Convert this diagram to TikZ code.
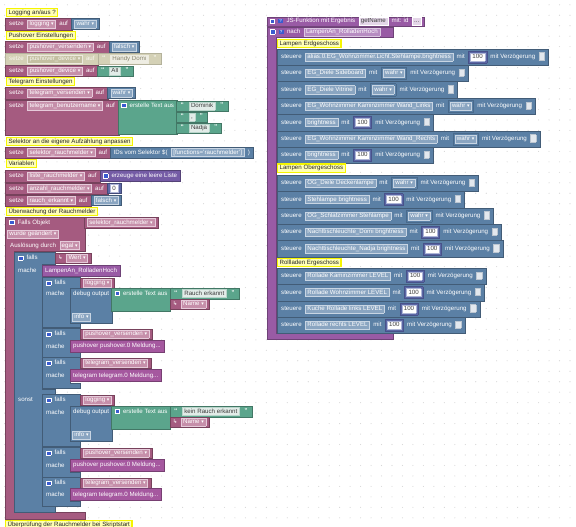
\documentclass[tikz,border=0pt]{standalone}
\usepackage{fontspec}
\setmainfont{Liberation Sans}
\newfontfamily\dvfont{DejaVu Sans}
\definecolor{cV}{HTML}{A55B80}
\definecolor{fP}{HTML}{C68FAA}
\definecolor{fPb}{HTML}{E6CADA}
\definecolor{cB}{HTML}{5B80A5}
\definecolor{cBd}{HTML}{496A8C}
\definecolor{fB}{HTML}{8AA5C1}
\definecolor{fBb}{HTML}{C8D5E3}
\definecolor{cG}{HTML}{5BA58C}
\definecolor{fS}{HTML}{E2ECE8}
\definecolor{fSb}{HTML}{B9D6CB}
\definecolor{txtd}{HTML}{3C3C3C}
\definecolor{cI}{HTML}{5B67A5}
\definecolor{cId}{HTML}{48528A}
\definecolor{fWb}{HTML}{AEB5D6}
\definecolor{cL}{HTML}{745BA5}
\definecolor{cPr}{HTML}{995BA5}
\definecolor{fV}{HTML}{B78CC2}
\definecolor{fVb}{HTML}{DCC7E2}
\definecolor{fL}{HTML}{E4D6E8}
\definecolor{cM}{HTML}{A5589F}
\definecolor{cD}{HTML}{D4D1B6}
\definecolor{fD}{HTML}{C4C0A2}
\definecolor{fDb}{HTML}{EDEBDF}
\definecolor{fDs}{HTML}{EEEDE3}
\definecolor{dstr}{HTML}{8A866E}
\definecolor{dtext}{HTML}{F8F7F0}
\definecolor{cmtF}{HTML}{FFFFB5}
\definecolor{cmtB}{HTML}{F5F500}
\definecolor{icB}{HTML}{3A5BD0}
\definecolor{chkF}{HTML}{E3E8EE}
\definecolor{chkB}{HTML}{BCC6D1}
\definecolor{dotc}{HTML}{D6D6D6}
\newcommand\blfont{\fontsize{6.15}{7}\selectfont}
\newcommand\ddn{{\dvfont\fontsize{5}{6}\selectfont ▾}}
\newcommand\rarrow{{\dvfont\fontsize{5.5}{6}\selectfont ↳}}
\newcommand\gpp{\hspace{3.5pt}}
\newcommand\qo{{\fontsize{8.5}{8}\selectfont\raisebox{-1.2pt}{“}}}
\newcommand\qc{{\fontsize{8.5}{8}\selectfont\raisebox{-1.2pt}{”}}}
\newcommand\fbx[4]{{\setlength\fboxsep{1.1pt}\setlength\fboxrule{0.4pt}\fcolorbox{#2}{#1}{\hspace{0.7pt}\textcolor{#3}{\vphantom{Ag}#4}\hspace{0.7pt}}}}
\newcommand\fldP[1]{\fbx{fP}{fPb}{white}{#1}}
\newcommand\fldB[1]{\fbx{fB}{fBb}{white}{#1}}
\newcommand\fldS[1]{\fbx{fS}{fSb}{txtd}{#1}}
\newcommand\fldW[1]{\fbx{white}{fWb}{txtd}{#1}}
\newcommand\fldD[1]{\fbx{fD}{fDb}{dtext}{#1}}
\newcommand\fldDs[1]{\fbx{fDs}{fDb}{dstr}{#1}}
\newcommand\fldV[1]{\fbx{fV}{fVb}{white}{#1}}
\newcommand\fldL[1]{\fbx{fL}{white}{txtd}{#1}}
\newcommand\strg[1]{\qo\hspace{5pt}\fldS{#1}\hspace{5pt}\qc}
\newcommand\valbool[1]{{\setlength\fboxsep{1.6pt}\setlength\fboxrule{0.4pt}\fcolorbox{cBd}{cB}{\fldB{#1}}}}
\newcommand\valnum[1]{{\setlength\fboxsep{1.6pt}\setlength\fboxrule{0.4pt}\fcolorbox{cId}{cI}{\fldW{#1}}}}
\newcommand\chkbox{{\setlength\fboxsep{0pt}\setlength\fboxrule{0.4pt}\raisebox{-1.3pt}{\fcolorbox{chkB}{chkF}{\rule{0pt}{7pt}\hspace{5pt}}}}}
\newcommand\iconsq{{\setlength\fboxsep{0pt}\setlength\fboxrule{0.5pt}\raisebox{-0.2pt}{\fcolorbox{white}{icB}{\rule{0pt}{4pt}\hspace{4pt}}}}}
\newcommand\qicon{{\setlength\fboxsep{0.4pt}\colorbox{icB}{\textcolor{white}{\fontsize{4.5}{5}\selectfont\,?\,}}}}
\begin{document}
\begin{tikzpicture}[x=1pt,y=-1pt,
  lbl/.style={text=white, font=\blfont, inner sep=0pt, anchor=west},
  plain/.style={font=\blfont, inner sep=0pt, anchor=west},
  blk/.style={fill=#1, draw=#1!72!black, line width=0.4pt, inner xsep=3pt, inner ysep=0.5pt, text=white, font=\blfont, anchor=west},
  strblk/.style={blk=cG, minimum height=10.5pt, inner xsep=4.5pt, xshift=-1pt},
  shp/.style={fill=#1, draw=#1!72!black, line width=0.4pt},
  cmtn/.style={fill=cmtF, draw=cmtB, line width=1.2pt, text=black!85, font=\blfont, inner xsep=2pt, inner ysep=0pt, minimum height=8.5pt, anchor=west}]
\newcommand\setzeblk[4]{\node[blk=cV, minimum height=#4pt, inner xsep=4pt] (#1) at (5,#2) {setze\gpp\fldP{#3 \ddn}\gpp auf\hspace{8pt}};}
\newcommand\steuerblk[4]{\node[blk=cB, minimum height=16.4pt, inner xsep=4pt] (#1) at (277,#2) {steuere\gpp\fldB{#3}\gpp mit\gpp #4\gpp mit Verzögerung\gpp\chkbox};}
\newcommand\fallsblk[5]{%
  \draw[shp=cB] (42,#2) -- (80,#2) -- (80,#2+12) -- (70,#2+12) -- (70,#3-5) -- (80,#3-5) -- (80,#3) -- (42,#3) -- cycle;
  \node[lbl] (#1l) at (46,#2+6) {\iconsq\gpp falls};
  \node[blk=cV, minimum height=10pt] (#1v) at (80,#2+6) {\fldP{#4 \ddn}};
  \node[lbl] (#1m) at (46,#5) {mache};}
\fill[white] (0,0) rectangle (576,527);
\useasboundingbox (0,0) rectangle (576,527);
\clip (0,0) rectangle (576,527);
\foreach \i in {0,...,54}{\foreach \j in {0,...,50}{\fill[dotc] ({4.6+10.47*\i},{4.8+10.47*\j}) circle (0.55pt);}}
% ---------------- left group ----------------
\node[cmtn] (c1) at (6,12.5) {Logging an/aus ?};
\setzeblk{b1}{24}{logging}{12}
\node[blk=cB, minimum height=11pt] (b1v) at ([xshift=-1pt]b1.east) {\fldB{wahr \ddn}};
\node[cmtn] (c2) at (6,35.5) {Pushover Einstellungen};
\setzeblk{b2}{47}{pushover\_versenden}{12}
\node[blk=cB, minimum height=11pt] (b2v) at ([xshift=-1pt]b2.east) {\fldB{falsch \ddn}};
\node[blk=cD, draw=cD!85!black, text=dtext, minimum height=12pt, inner xsep=4pt] (b3) at (5,59) {setze\gpp\fldD{pushover\_device \ddn}\gpp auf\hspace{8pt}};
\node[blk=cD, draw=cD!85!black, text=dtext, minimum height=11pt, inner xsep=4.5pt] (b3v) at ([xshift=-1pt]b3.east) {\qo\hspace{5pt}\fldDs{Handy Domi}\hspace{5pt}\qc};
\setzeblk{b4}{71}{pushover\_device}{11}
\node[strblk, xshift=0pt] (b4v) at ([xshift=-1pt]b4.east) {\strg{All}};
\node[cmtn] (c3) at (6,81.5) {Telegram Einstellungen};
\setzeblk{b5}{93}{telegram\_versenden}{12}
\node[blk=cB, minimum height=11pt] (b5v) at ([xshift=-1pt]b5.east) {\fldB{wahr \ddn}};
\node[blk=cV, inner xsep=4pt, text height=6.5pt, text depth=27.5pt, anchor=north west] (b6) at (5,100) {setze\gpp\fldP{telegram\_benutzername \ddn}\gpp auf\hspace{8pt}};
\node[blk=cG, text height=6.5pt, text depth=26pt, anchor=north west, xshift=-1pt] (b6g) at (b6.north east) {\iconsq\gpp erstelle Text aus\hspace{22pt}};
\node[strblk] (b6s1) at (b6g.north east |- 0,106) {\strg{Dominik}};
\node[strblk] (b6s2) at (b6g.north east |- 0,117) {\strg{,}};
\node[strblk] (b6s3) at (b6g.north east |- 0,128) {\strg{Nadja}};
\node[cmtn] (c4) at (6,141.5) {Selektor an die eigene Aufzählung anpassen};
\setzeblk{b7}{152.5}{selektor\_rauchmelder}{11}
\node[blk=cB, minimum height=10.5pt] (b7v) at ([xshift=-1pt]b7.east) {IDs vom Selektor \$(\gpp\fldB{[functions='rauchmelder']}\gpp)};
\node[cmtn] (c5) at (6,163.5) {Variablen};
\setzeblk{b8}{176}{liste\_rauchmelder}{12}
\node[blk=cL, minimum height=11pt] (b8v) at ([xshift=-1pt]b8.east) {\iconsq\gpp erzeuge eine leere Liste\hspace{4pt}};
\setzeblk{b9}{188.5}{anzahl\_rauchmelder}{11}
\node[blk=cI, minimum height=10pt] (b9v) at ([xshift=-1pt]b9.east) {\fldW{0}};
\setzeblk{b10}{200.5}{rauch\_erkannt}{11}
\node[blk=cB, minimum height=10pt] (b10v) at ([xshift=-1pt]b10.east) {\fldB{falsch \ddn}};
\node[cmtn] (c6) at (6,211.5) {Überwachung der Rauchmelder};
% trigger
\draw[shp=cV] (5,217) -- (85,217) -- (85,251) -- (14,251) -- (14,512) -- (85,512) -- (85,519) -- (5,519) -- cycle;
\node[lbl] (tfo) at (9,222.5) {\iconsq\gpp Falls Objekt};
\node[blk=cV, minimum height=11pt] (tsel) at (84,222.5) {\fldP{selektor\_rauchmelder \ddn}};
\node[plain] (twg) at (7,234) {\fldP{wurde geändert \ddn}};
\node[lbl] (tad) at (10,245.5) {Auslösung durch\gpp\fldP{egal \ddn}};
% if/else
\draw[shp=cB] (14,252) -- (55,252) -- (55,264) -- (42,264) -- (42,389) -- (55,389) -- (55,394) -- (42,394) -- (42,506) -- (55,506) -- (55,512) -- (14,512) -- cycle;
\node[lbl] (f0l) at (18,258) {\iconsq\gpp falls};
\node[blk=cV, minimum height=10pt] (f0v) at (55,258) {\rarrow\gpp\fldP{Wert \ddn}};
\node[lbl] (f0m) at (18,270.5) {mache};
\node[lbl] (f0s) at (18,400) {sonst};
\node[blk=cPr, minimum height=11pt] (lrh) at (42,270.5) {LampenAn\_RolladenHoch};
% then-branch
\fallsblk{f1}{277}{327}{logging}{293.5}
\node[blk=cB, text height=6.5pt, text depth=27pt, anchor=north west] (d1) at (70,288) {debug output\hspace{5pt}};
\node[plain] (d1i) at (72,317) {\fldB{info \ddn}};
\node[blk=cG, text height=6.5pt, text depth=15pt, anchor=north west, xshift=-1pt] (g1) at (d1.north east) {\iconsq\gpp erstelle Text aus\hspace{10pt}};
\node[strblk] (g1s) at (g1.north east |- 0,293.5) {\strg{Rauch erkannt}};
\node[blk=cV, minimum height=10pt, xshift=-1pt] (g1n) at (g1.north east |- 0,304) {\rarrow\gpp\fldP{Name \ddn}};
\fallsblk{f2}{328}{357}{pushover\_versenden}{346}
\node[blk=cM, minimum height=12pt] (p1) at (70,346) {pushover pushover.0 Meldung...};
\fallsblk{f3}{357}{388}{telegram\_versenden}{375.5}
\node[blk=cM, minimum height=12pt] (t1) at (70,375.5) {telegram telegram.0 Meldung...};
% else-branch
\fallsblk{f4}{394}{446}{logging}{412}
\node[blk=cB, text height=6.5pt, text depth=27pt, anchor=north west] (d2) at (70,406) {debug output\hspace{5pt}};
\node[plain] (d2i) at (72,435) {\fldB{info \ddn}};
\node[blk=cG, text height=6.5pt, text depth=15pt, anchor=north west, xshift=-1pt] (g2) at (d2.north east) {\iconsq\gpp erstelle Text aus\hspace{10pt}};
\node[strblk] (g2s) at (g2.north east |- 0,411.5) {\strg{kein Rauch erkannt}};
\node[blk=cV, minimum height=10pt, xshift=-1pt] (g2n) at (g2.north east |- 0,422) {\rarrow\gpp\fldP{Name \ddn}};
\fallsblk{f5}{447}{477}{pushover\_versenden}{465}
\node[blk=cM, minimum height=12pt] (p2) at (70,465) {pushover pushover.0 Meldung...};
\fallsblk{f6}{477}{506}{telegram\_versenden}{494.5}
\node[blk=cM, minimum height=12pt] (t2) at (70,494.5) {telegram telegram.0 Meldung...};
\node[cmtn] (c7) at (5,524.5) {Überprüfung der Rauchmelder bei Skriptstart};
% ---------------- right group ----------------
\node[blk=cPr, minimum height=9.5pt, inner xsep=2.5pt] (js) at (267,21.5) {\iconsq\gpp\qicon\gpp JS-Funktion mit Ergebnis\gpp\fldL{getName}\gpp mit: id\gpp\fldL{...}};
\draw[shp=cPr] (267,27) -- (393,27) -- (393,37.5) -- (276,37.5) -- (276,333) -- (393,333) -- (393,339) -- (267,339) -- cycle;
\node[lbl] (pd) at (270,32.2) {\iconsq\gpp\qicon\gpp nach\gpp\fldV{LampenAn\_RolladenHoch}};
\node[cmtn] (rc1) at (277,43.5) {Lampen Erdgeschoss};
\steuerblk{r1}{57}{alias.0.EG\_Wohnzimmer.Licht.Stehlampe.brightness}{\valnum{100}}
\steuerblk{r2}{73.4}{EG\_Diele Sideboard}{\valbool{wahr \ddn}}
\steuerblk{r3}{89.8}{EG\_Diele Vitrine}{\valbool{wahr \ddn}}
\steuerblk{r4}{106.2}{EG\_Wohnzimmer Kaminzimmer Wand\_Links}{\valbool{wahr \ddn}}
\steuerblk{r5}{122.6}{brightness}{\valnum{100}}
\steuerblk{r6}{139}{EG\_Wohnzimmer Kaminzimmer Wand\_Rechts}{\valbool{wahr \ddn}}
\steuerblk{r7}{155.4}{brightness}{\valnum{100}}
\node[cmtn] (rc2) at (277,168.2) {Lampen Obergeschoss};
\steuerblk{r8}{183.2}{OG\_Diele Deckenlampe}{\valbool{wahr \ddn}}
\steuerblk{r9}{199.6}{Stehlampe brightness}{\valnum{100}}
\steuerblk{r10}{216}{OG\_Schlafzimmer Stehlampe}{\valbool{wahr \ddn}}
\steuerblk{r11}{232.4}{Nachttischleuchte\_Domi brightness}{\valnum{100}}
\steuerblk{r12}{248.8}{Nachttischleuchte\_Nadja brightness}{\valnum{100}}
\node[cmtn] (rc3) at (277,262.5) {Rollladen Ergeschoss};
\steuerblk{r13}{276.2}{Rollade Kaminzimmer LEVEL}{\valnum{100}}
\steuerblk{r14}{292.6}{Rollade Wohnzimmer LEVEL}{\valnum{100}}
\steuerblk{r15}{309}{Kuche Rollade links LEVEL}{\valnum{100}}
\steuerblk{r16}{325.2}{Rollade rechts LEVEL}{\valnum{100}}
\end{tikzpicture}
\end{document}
